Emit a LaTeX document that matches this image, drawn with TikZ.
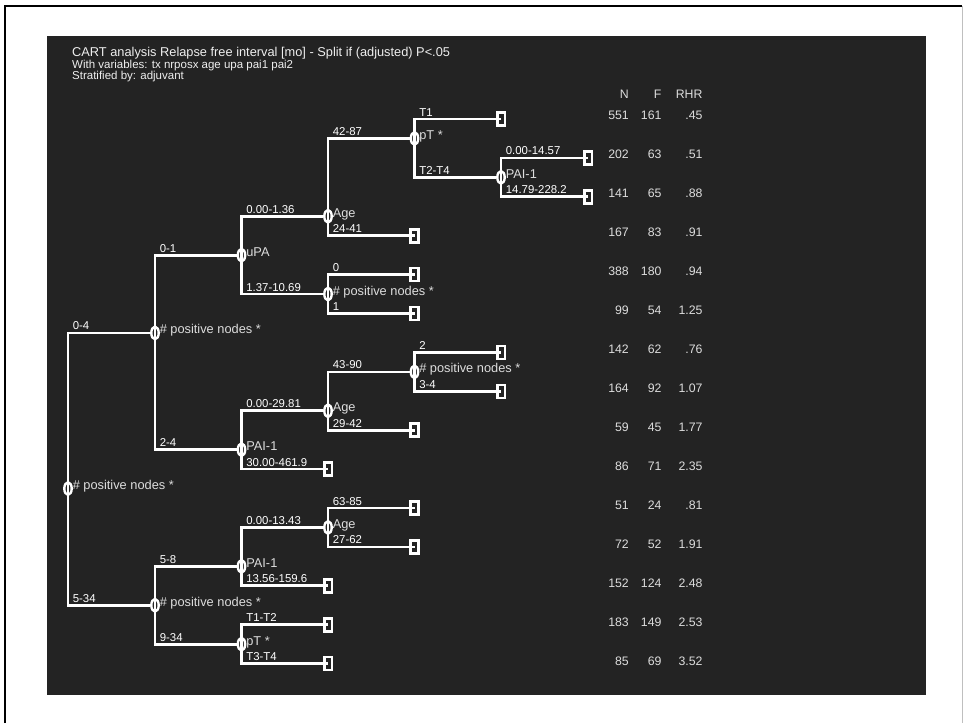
\documentclass[tikz,border=0pt]{standalone}
\usepackage{fontspec}
\setmainfont{Liberation Sans}
\usetikzlibrary{shapes.geometric}
\definecolor{panel}{HTML}{232323}
\definecolor{nlbl}{HTML}{DDDDDD}
\definecolor{ttl}{HTML}{EEEEEE}
\begin{document}
\begin{tikzpicture}[x=1pt,y=-1pt,
 split/.style={ellipse, draw=white, line width=2.4pt, minimum width=7.4pt, minimum height=12.6pt, inner sep=0pt},
 leafbox/.style={rectangle, draw=white, line width=2.6pt, minimum width=7.6pt, minimum height=13pt, inner sep=0pt},
 link/.style={draw=white, line width=2.7pt},
 elab/.style={anchor=base west, text=white, font=\fontsize{11.4}{12}\selectfont, inner sep=0pt, xshift=3.5pt, yshift=3pt},
 nlab/.style={anchor=base west, text=nlbl, font=\fontsize{12.8}{13}\selectfont, inner sep=0pt, xshift=4.6pt, yshift=-1pt},
 tab/.style={anchor=base east, text=nlbl, font=\fontsize{12.3}{13}\selectfont, inner sep=0pt},
 ttlA/.style={anchor=base west, text=ttl, font=\fontsize{12.8}{13}\selectfont, inner sep=0pt},
 ttlB/.style={anchor=base west, text=ttl, font=\fontsize{11.5}{12}\selectfont, inner sep=0pt},
]
\useasboundingbox (0,0) rectangle (963,723);
\fill[white] (0,0) rectangle (963,723);
\draw[black, line width=2pt] (5,723) -- (5,6) -- (962,6);
\draw[black!25, line width=1pt] (962,6) -- (962,723);
\fill[panel] (47,36) rectangle (926,695);

% titles
\node[ttlA] (title) at (72,56.7) {CART analysis Relapse free interval [mo] - Split if (adjusted) P<.05};
\node[ttlB] (sub1) at (72,68.3) {With variables: tx nrposx age upa pai1 pai2};
\node[ttlB] (sub2) at (72,79.3) {Stratified by: adjuvant};

% split nodes
\foreach \n/\x/\y/\t in {
 s0/68/488.55/\# positive nodes *,
 s1/155/332.95/\# positive nodes *,
 s2/241.5/255.15/uPA,
 s3/328/216.25/Age,
 s4/414.5/138.45/pT *,
 s5/501/177.35/PAI-1,
 s6/328/294.05/\# positive nodes *,
 s7/241.5/449.65/PAI-1,
 s8/328/410.75/Age,
 s9/414.5/371.85/\# positive nodes *,
 s10/155/605.25/\# positive nodes *,
 s11/241.5/566.35/PAI-1,
 s12/328/527.45/Age,
 s13/241.5/644.15/pT *}
{
 \node[split] (\n) at (\x,\y) {};
 \node[nlab] (t\n) at (\n.center) {\t};
}

% leaves
\foreach \n/\x/\y in {
 l0/501/119, l1/588/157.9, l2/588/196.8, l3/414.5/235.7, l4/414.5/274.6,
 l5/414.5/313.5, l6/501/352.4, l7/501/391.3, l8/414.5/430.2, l9/328/469.1,
 l10/414.5/508, l11/414.5/546.9, l12/328/585.8, l13/328/624.7, l14/328/663.6}
{
 \node[leafbox] (\n) at (\x,\y) {};
}

% connectors with labels
\foreach \p/\c/\a/\t in {
 s0/s1/west/0-4, s0/s10/west/5-34,
 s1/s2/west/0-1, s1/s7/west/2-4,
 s2/s3/west/0.00-1.36, s2/s6/west/1.37-10.69,
 s3/s4/west/42-87, s3/l3/center/24-41,
 s4/l0/center/T1, s4/s5/west/T2-T4,
 s5/l1/center/0.00-14.57, s5/l2/center/14.79-228.2,
 s6/l4/center/0, s6/l5/center/1,
 s7/s8/west/0.00-29.81, s7/l9/center/30.00-461.9,
 s8/s9/west/43-90, s8/l8/center/29-42,
 s9/l6/center/2, s9/l7/center/3-4,
 s10/s11/west/5-8, s10/s13/west/9-34,
 s11/s12/west/0.00-13.43, s11/l12/center/13.56-159.6,
 s12/l10/center/63-85, s12/l11/center/27-62,
 s13/l13/center/T1-T2, s13/l14/center/T3-T4}
{
 \draw[link] (\p.center) |- (\c.\a) node[elab, pos=0.5] (e\c) {\t};
}

% table
\node[tab] (hN) at (629,98.3) {N};
\node[tab] (hF) at (661.7,98.3) {F};
\node[tab] (hR) at (702.7,98.3) {RHR};
\foreach \k/\a/\b/\r in {
 0/551/161/.45, 1/202/63/.51, 2/141/65/.88, 3/167/83/.91, 4/388/180/.94,
 5/99/54/1.25, 6/142/62/.76, 7/164/92/1.07, 8/59/45/1.77, 9/86/71/2.35,
 10/51/24/.81, 11/72/52/1.91, 12/152/124/2.48, 13/183/149/2.53, 14/85/69/3.52}
{
 \node[tab] (rn\k) at (629,119+39*\k) {\a};
 \node[tab] (rf\k) at (661.7,119+39*\k) {\b};
 \node[tab] (rr\k) at (702.7,119+39*\k) {\r};
}
\end{tikzpicture}
\end{document}
